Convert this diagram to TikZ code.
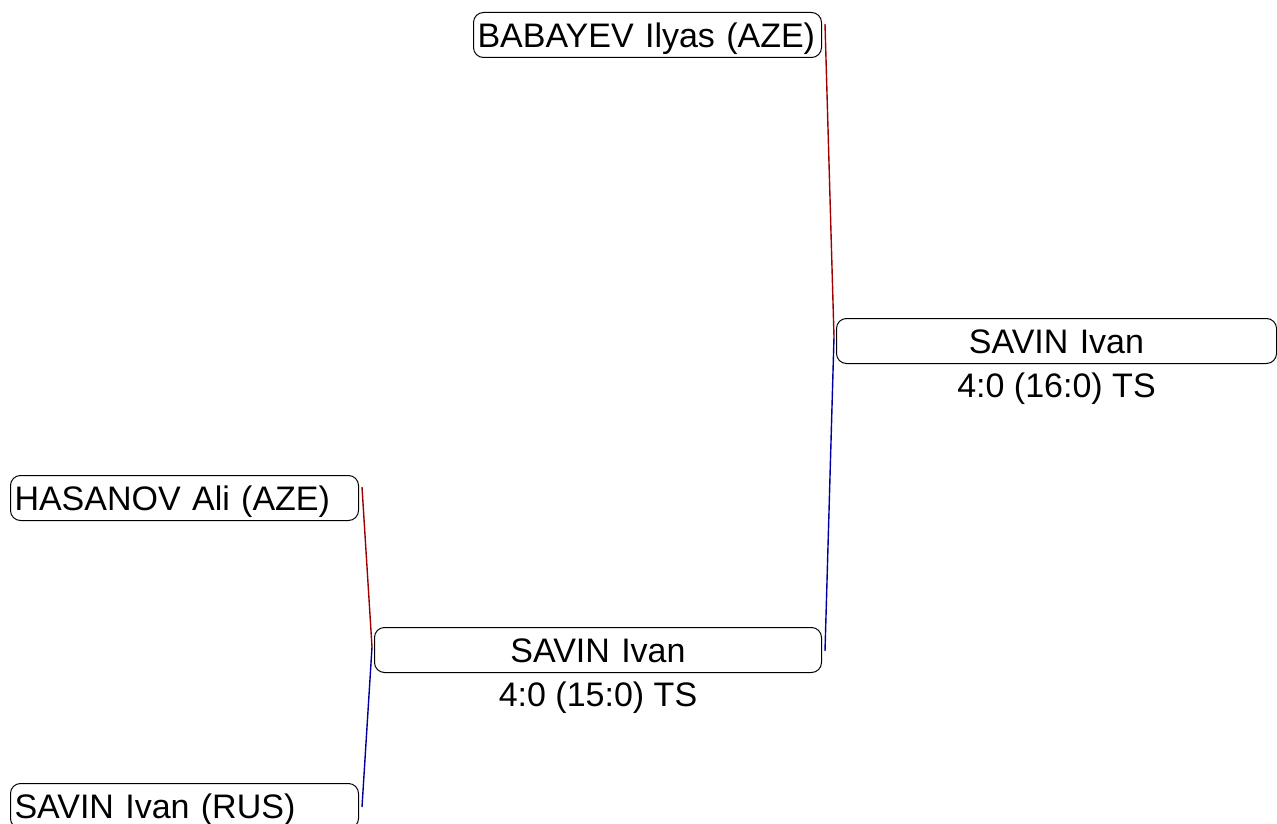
\documentclass[tikz,border=0pt]{standalone}
\usepackage{fontspec}
\setmainfont{Liberation Sans}
\begin{document}
\begin{tikzpicture}[x=1pt,y=-1pt,
    every node/.style={font=\fontsize{34}{40}\selectfont},
    box/.style={draw,line width=1pt,rounded corners=10pt,anchor=north west,
      inner xsep=4pt,inner ysep=0pt,text height=35pt,text depth=10pt},
    entry/.style={box,text width=340pt,align=left},
    winner/.style={box,text width=#1,align=center},
    redline/.style={draw=red!62!black,line width=1.4pt},
    blueline/.style={draw=blue!62!black,line width=1.4pt}]
    \useasboundingbox (0,0) rectangle (1277,824);
    \node[entry] (H) at (10,475) {HASANOV Ali (AZE)};
    \node[entry] (S) at (10,783) {SAVIN Ivan (RUS)};
    \node[entry] (B) at (473,12) {BABAYEV Ilyas (AZE)};
    \node[winner=439pt] (W1) at (374,627) {SAVIN Ivan};
    \node[anchor=base] (R1) at ([yshift=-33pt]W1.south) {4:0 (15:0) TS};
    \node[winner=432pt] (W2) at (836,318) {SAVIN Ivan};
    \node[anchor=base] (R2) at ([yshift=-33pt]W2.south) {4:0 (16:0) TS};
    \coordinate (ho) at ([xshift=3pt,yshift=-12pt]H.north east);
    \coordinate (so) at ([xshift=3pt,yshift=-24pt]S.north east);
    \coordinate (w1i) at ([xshift=-2pt,yshift=-20pt]W1.north west);
    \coordinate (bo) at ([xshift=3pt,yshift=-12pt]B.north east);
    \coordinate (w1o) at ([xshift=3pt,yshift=-24pt]W1.north east);
    \coordinate (w2i) at ([xshift=-2pt,yshift=-19pt]W2.north west);
    \draw[redline] (ho) -- (w1i);
    \draw[blueline] (so) -- (w1i);
    \draw[redline] (bo) -- (w2i);
    \draw[blueline] (w1o) -- (w2i);
  \end{tikzpicture}
\end{document}
